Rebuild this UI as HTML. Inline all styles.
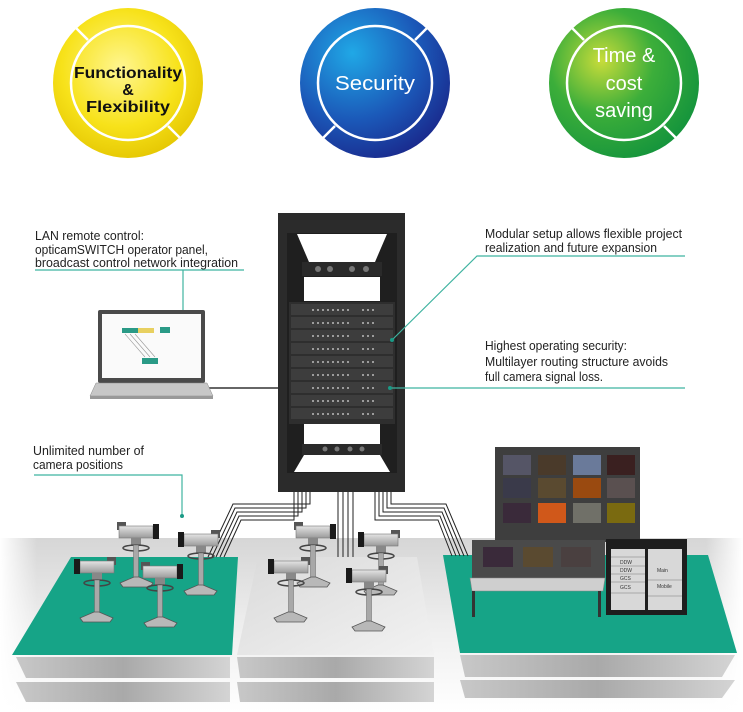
<!DOCTYPE html>
<html><head><meta charset="utf-8"><style>
html,body{margin:0;padding:0;background:#fff;}
svg{display:block;}
text{font-family:"Liberation Sans",sans-serif;}
</style></head><body>
<svg width="743" height="712" viewBox="0 0 743 712" xmlns="http://www.w3.org/2000/svg">
<defs>
<radialGradient id="gy" cx="0.45" cy="0.4" r="0.65"><stop offset="0" stop-color="#fff690"/><stop offset="0.6" stop-color="#f7e21a"/><stop offset="1" stop-color="#e3c400"/></radialGradient>
<radialGradient id="gb" cx="0.35" cy="0.3" r="0.75"><stop offset="0" stop-color="#20a8e6"/><stop offset="0.6" stop-color="#1b58b8"/><stop offset="1" stop-color="#1a2b8e"/></radialGradient>
<radialGradient id="gg" cx="0.35" cy="0.35" r="0.7"><stop offset="0" stop-color="#c8dc3a"/><stop offset="0.5" stop-color="#3cae3a"/><stop offset="1" stop-color="#16953c"/></radialGradient>
<linearGradient id="floor" x1="0" y1="0" x2="0" y2="1"><stop offset="0" stop-color="#d6d6d6"/><stop offset="0.5" stop-color="#eeeeee"/><stop offset="1" stop-color="#ffffff"/></linearGradient>
<linearGradient id="floorh" x1="0" y1="0" x2="1" y2="0"><stop offset="0" stop-color="#fff" stop-opacity="1"/><stop offset="0.05" stop-color="#fff" stop-opacity="0"/><stop offset="0.95" stop-color="#fff" stop-opacity="0"/><stop offset="1" stop-color="#fff" stop-opacity="1"/></linearGradient>
<linearGradient id="slab" x1="0" y1="0" x2="1" y2="0"><stop offset="0" stop-color="#c8c8c8"/><stop offset="0.5" stop-color="#a9a9a9"/><stop offset="1" stop-color="#d4d4d4"/></linearGradient>
<linearGradient id="mid" x1="0" y1="0" x2="1" y2="1"><stop offset="0" stop-color="#dadada"/><stop offset="1" stop-color="#f2f2f2"/></linearGradient>
<linearGradient id="camb" x1="0" y1="0" x2="0" y2="1"><stop offset="0" stop-color="#e4e4e4"/><stop offset="1" stop-color="#9a9a9a"/></linearGradient>
<g id="cam">
  <rect x="0" y="0" width="9" height="8" fill="#555"/>
  <rect x="2" y="4" width="34" height="12" fill="url(#camb)" stroke="#777" stroke-width="0.6"/>
  <rect x="36" y="2" width="6" height="15" fill="#1a1a1a"/>
  <rect x="14" y="16" width="10" height="7" fill="#888"/>
  <ellipse cx="19" cy="26" rx="13" ry="3" fill="none" stroke="#444" stroke-width="1.5"/>
  <rect x="16.5" y="23" width="5" height="33" fill="#a8a8a8" stroke="#666" stroke-width="0.5"/>
  <path d="M3 61 L17 55 L22 55 L36 61 L33 65 L6 65 Z" fill="#b8b8b8" stroke="#555" stroke-width="0.8"/>
</g>
</defs>

<!-- circles -->
<circle cx="128" cy="83" r="75" fill="url(#gy)"/>
<circle cx="128" cy="83" r="57" fill="none" stroke="#fff" stroke-width="2.5"/>
<line x1="88" y1="40" x2="75" y2="27" stroke="#fff" stroke-width="2.5"/>
<line x1="168" y1="126" x2="181" y2="139" stroke="#fff" stroke-width="2.5"/>
<text x="128" y="78" text-anchor="middle" font-size="16" font-weight="bold" fill="#111" textLength="108" lengthAdjust="spacingAndGlyphs">Functionality</text>
<text x="128" y="95" text-anchor="middle" font-size="16" font-weight="bold" fill="#111">&amp;</text>
<text x="128" y="112" text-anchor="middle" font-size="16" font-weight="bold" fill="#111" textLength="84" lengthAdjust="spacingAndGlyphs">Flexibility</text>

<circle cx="375" cy="83" r="75" fill="url(#gb)"/>
<circle cx="375" cy="83" r="57" fill="none" stroke="#fff" stroke-width="2.5"/>
<line x1="415" y1="40" x2="428" y2="27" stroke="#fff" stroke-width="2.5"/>
<line x1="335" y1="126" x2="322" y2="139" stroke="#fff" stroke-width="2.5"/>
<text x="375" y="90" text-anchor="middle" font-size="20" fill="#fff" textLength="80" lengthAdjust="spacingAndGlyphs">Security</text>

<circle cx="624" cy="83" r="75" fill="url(#gg)"/>
<circle cx="624" cy="83" r="57" fill="none" stroke="#fff" stroke-width="2.5"/>
<line x1="584" y1="40" x2="571" y2="27" stroke="#fff" stroke-width="2.5"/>
<line x1="664" y1="126" x2="677" y2="139" stroke="#fff" stroke-width="2.5"/>
<text x="624" y="62" text-anchor="middle" font-size="20" fill="#fff">Time &amp;</text>
<text x="624" y="90" text-anchor="middle" font-size="20" fill="#fff">cost</text>
<text x="624" y="117" text-anchor="middle" font-size="20" fill="#fff">saving</text>

<!-- labels -->
<g font-size="12.5" fill="#222">
<text x="35" y="240" textLength="109" lengthAdjust="spacingAndGlyphs">LAN remote control:</text>
<text x="35" y="254" textLength="173" lengthAdjust="spacingAndGlyphs">opticamSWITCH operator panel,</text>
<text x="35" y="267" textLength="203" lengthAdjust="spacingAndGlyphs">broadcast control network integration</text>
<text x="485" y="238" textLength="197" lengthAdjust="spacingAndGlyphs">Modular setup allows flexible project</text>
<text x="485" y="252" textLength="172" lengthAdjust="spacingAndGlyphs">realization and future expansion</text>
<text x="485" y="350" textLength="142" lengthAdjust="spacingAndGlyphs">Highest operating security:</text>
<text x="485" y="366" textLength="183" lengthAdjust="spacingAndGlyphs">Multilayer routing structure avoids</text>
<text x="485" y="381" textLength="118" lengthAdjust="spacingAndGlyphs">full camera signal loss.</text>
<text x="33" y="455" textLength="111" lengthAdjust="spacingAndGlyphs">Unlimited number of</text>
<text x="33" y="469" textLength="90" lengthAdjust="spacingAndGlyphs">camera positions</text>
</g>

<!-- floor -->
<rect x="0" y="538" width="743" height="174" fill="url(#floor)"/>
<rect x="0" y="538" width="743" height="174" fill="url(#floorh)"/>

<!-- slabs -->
<g fill="url(#slab)">
<polygon points="16,657 230,657 230,678 26,678"/>
<polygon points="16,682 230,682 230,702 26,702"/>
<polygon points="237,657 434,657 434,678 240,678"/>
<polygon points="237,682 434,682 434,702 240,702"/>
<polygon points="460,655 735,655 722,677 465,677"/>
<polygon points="460,680 735,680 722,698 465,698"/>
</g>

<!-- platforms -->
<polygon points="71,557 238,557 232,655 12,655" fill="#16a487"/>
<polygon points="258,557 417,557 434,655 237,655" fill="url(#mid)"/>
<polygon points="443,555 708,555 737,653 460,653" fill="#16a487"/>

<!-- cables -->
<g fill="none" stroke="#222" stroke-width="1">
<path d="M294 492 V520 H241 L224 557"/>
<path d="M298 492 V516 H239 L220 557"/>
<path d="M302 492 V512 H237 L216 557"/>
<path d="M306 492 V508 H235 L212 557"/>
<path d="M310 492 V504 H233 L208 557"/>
<path d="M338 492 V557"/><path d="M343 492 V557"/><path d="M348 492 V557"/><path d="M353 492 V557"/>
<path d="M375 492 V520 H438 L452 556"/>
<path d="M379 492 V516 H440 L456 556"/>
<path d="M383 492 V512 H442 L460 556"/>
<path d="M387 492 V508 H444 L464 556"/>
<path d="M391 492 V504 H446 L468 556"/>
</g>

<!-- rack -->
<rect x="278" y="213" width="127" height="279" fill="#2b2b2b"/>
<rect x="287" y="233" width="110" height="240" fill="#1f1f1f"/>
<polygon points="297,234 387,234 375,262 309,262" fill="#fff"/>
<rect x="302" y="262" width="80" height="14" fill="#2a2a2a"/>
<g fill="#777"><circle cx="318" cy="269" r="3"/><circle cx="330" cy="269" r="3"/><circle cx="352" cy="269" r="3"/><circle cx="366" cy="269" r="3"/></g>
<rect x="304" y="277" width="76" height="24" fill="#fff"/>
<g>
<rect x="289" y="302" width="106" height="122" fill="#2e2e2e"/>
<g fill="#3d3d3d"><rect x="291" y="304" width="102" height="11"/><rect x="291" y="317" width="102" height="11"/><rect x="291" y="330" width="102" height="11"/><rect x="291" y="343" width="102" height="11"/><rect x="291" y="356" width="102" height="11"/><rect x="291" y="369" width="102" height="11"/><rect x="291" y="382" width="102" height="11"/><rect x="291" y="395" width="102" height="11"/><rect x="291" y="408" width="102" height="11"/></g>
<g stroke="#bbb" stroke-width="1.5" stroke-dasharray="2 3">
<line x1="312" y1="310" x2="350" y2="310"/><line x1="362" y1="310" x2="376" y2="310"/>
<line x1="312" y1="323" x2="350" y2="323"/><line x1="362" y1="323" x2="376" y2="323"/>
<line x1="312" y1="336" x2="350" y2="336"/><line x1="362" y1="336" x2="376" y2="336"/>
<line x1="312" y1="349" x2="350" y2="349"/><line x1="362" y1="349" x2="376" y2="349"/>
<line x1="312" y1="362" x2="350" y2="362"/><line x1="362" y1="362" x2="376" y2="362"/>
<line x1="312" y1="375" x2="350" y2="375"/><line x1="362" y1="375" x2="376" y2="375"/>
<line x1="312" y1="388" x2="350" y2="388"/><line x1="362" y1="388" x2="376" y2="388"/>
<line x1="312" y1="401" x2="350" y2="401"/><line x1="362" y1="401" x2="376" y2="401"/>
<line x1="312" y1="414" x2="350" y2="414"/><line x1="362" y1="414" x2="376" y2="414"/>
</g>
</g>
<rect x="304" y="424" width="76" height="20" fill="#fff"/>
<rect x="302" y="444" width="80" height="11" fill="#2a2a2a"/>
<g fill="#777"><circle cx="325" cy="449" r="2.5"/><circle cx="337" cy="449" r="2.5"/><circle cx="350" cy="449" r="2.5"/><circle cx="362" cy="449" r="2.5"/></g>
<polygon points="304,455 380,455 390,472 294,472" fill="#fff"/>

<!-- connector lines -->
<g stroke="#3fb3a0" stroke-width="1.2" fill="none">
<polyline points="35,270 244,270"/>
<polyline points="183,270 183,333"/>
<polyline points="685,256 477,256 392,340"/>
<polyline points="685,388 390,388"/>
<polyline points="34,475 182,475 182,515"/>
</g>
<g fill="#1a9a86"><circle cx="183" cy="333" r="2"/><circle cx="392" cy="340" r="2"/><circle cx="390" cy="388" r="2"/><circle cx="182" cy="516" r="2"/></g>

<!-- laptop -->
<line x1="205" y1="388" x2="278" y2="388" stroke="#333" stroke-width="1.5"/>
<rect x="98" y="310" width="107" height="73" rx="2" fill="#4a4a4a"/>
<rect x="102" y="314" width="99" height="64" fill="#fafafa"/>
<g fill="#2a9a86"><rect x="122" y="328" width="16" height="5"/><rect x="160" y="327" width="10" height="6"/><rect x="138" y="328" width="16" height="5" fill="#e8d060"/><rect x="142" y="358" width="16" height="6"/></g>
<g stroke="#999" stroke-width="0.6"><line x1="125" y1="334" x2="145" y2="357"/><line x1="130" y1="334" x2="150" y2="357"/><line x1="135" y1="334" x2="155" y2="357"/></g>
<polygon points="96,383 207,383 213,396 90,396" fill="#c7c7c7" stroke="#888" stroke-width="0.5"/>
<rect x="90" y="396" width="123" height="3" fill="#999"/>

<!-- monitor wall -->
<rect x="495" y="447" width="145" height="95" fill="#3e3e3e"/>
<g>
<rect x="503" y="455" width="28" height="20" fill="#556"/><rect x="538" y="455" width="28" height="20" fill="#4a3a2a"/><rect x="573" y="455" width="28" height="20" fill="#6a7a9a"/><rect x="607" y="455" width="28" height="20" fill="#3a2020"/>
<rect x="503" y="478" width="28" height="20" fill="#3a3a4a"/><rect x="538" y="478" width="28" height="20" fill="#5a4a30"/><rect x="573" y="478" width="28" height="20" fill="#9a4a10"/><rect x="607" y="478" width="28" height="20" fill="#5a5050"/>
<rect x="503" y="503" width="28" height="20" fill="#3a2a3a"/><rect x="538" y="503" width="28" height="20" fill="#d0581a"/><rect x="573" y="503" width="28" height="20" fill="#707068"/><rect x="607" y="503" width="28" height="20" fill="#7a6a10"/>
</g>
<!-- console -->
<rect x="472" y="540" width="133" height="38" fill="#4a4a4a"/>
<rect x="483" y="547" width="30" height="20" fill="#3a2a3a"/><rect x="523" y="547" width="30" height="20" fill="#5a4a30"/><rect x="561" y="547" width="30" height="20" fill="#4a4040"/>
<polygon points="470,578 605,578 603,591 472,591" fill="#cfcfcf" stroke="#888" stroke-width="0.6"/>
<rect x="472" y="591" width="3" height="26" fill="#333"/><rect x="598" y="591" width="3" height="26" fill="#333"/>
<!-- cabinet -->
<rect x="606" y="539" width="81" height="76" fill="#1e1e1e"/>
<rect x="611" y="549" width="34" height="61" fill="#d8d8d8"/>
<rect x="648" y="549" width="34" height="61" fill="#d8d8d8"/>
<g stroke="#999" stroke-width="0.8"><line x1="611" y1="557" x2="645" y2="557"/><line x1="611" y1="566" x2="645" y2="566"/><line x1="611" y1="574" x2="645" y2="574"/><line x1="611" y1="582" x2="645" y2="582"/><line x1="611" y1="593" x2="645" y2="593"/><line x1="648" y1="580" x2="682" y2="580"/><line x1="648" y1="596" x2="682" y2="596"/></g>
<g font-size="5" fill="#333"><text x="620" y="564">DDW</text><text x="620" y="572">DDW</text><text x="620" y="580">GCS</text><text x="620" y="589">GCS</text><text x="657" y="572">Main</text><text x="657" y="588">Mobile</text></g>

<!-- cameras -->
<use href="#cam" transform="translate(117,522)"/>
<use href="#cam" transform="translate(220,530) scale(-1,1)"/>
<use href="#cam" transform="translate(116,557) scale(-1,1)"/>
<use href="#cam" transform="translate(141,562)"/>
<use href="#cam" transform="translate(294,522)"/>
<use href="#cam" transform="translate(400,530) scale(-1,1)"/>
<use href="#cam" transform="translate(310,557) scale(-1,1)"/>
<use href="#cam" transform="translate(388,566) scale(-1,1)"/>
</svg>
</body></html>
